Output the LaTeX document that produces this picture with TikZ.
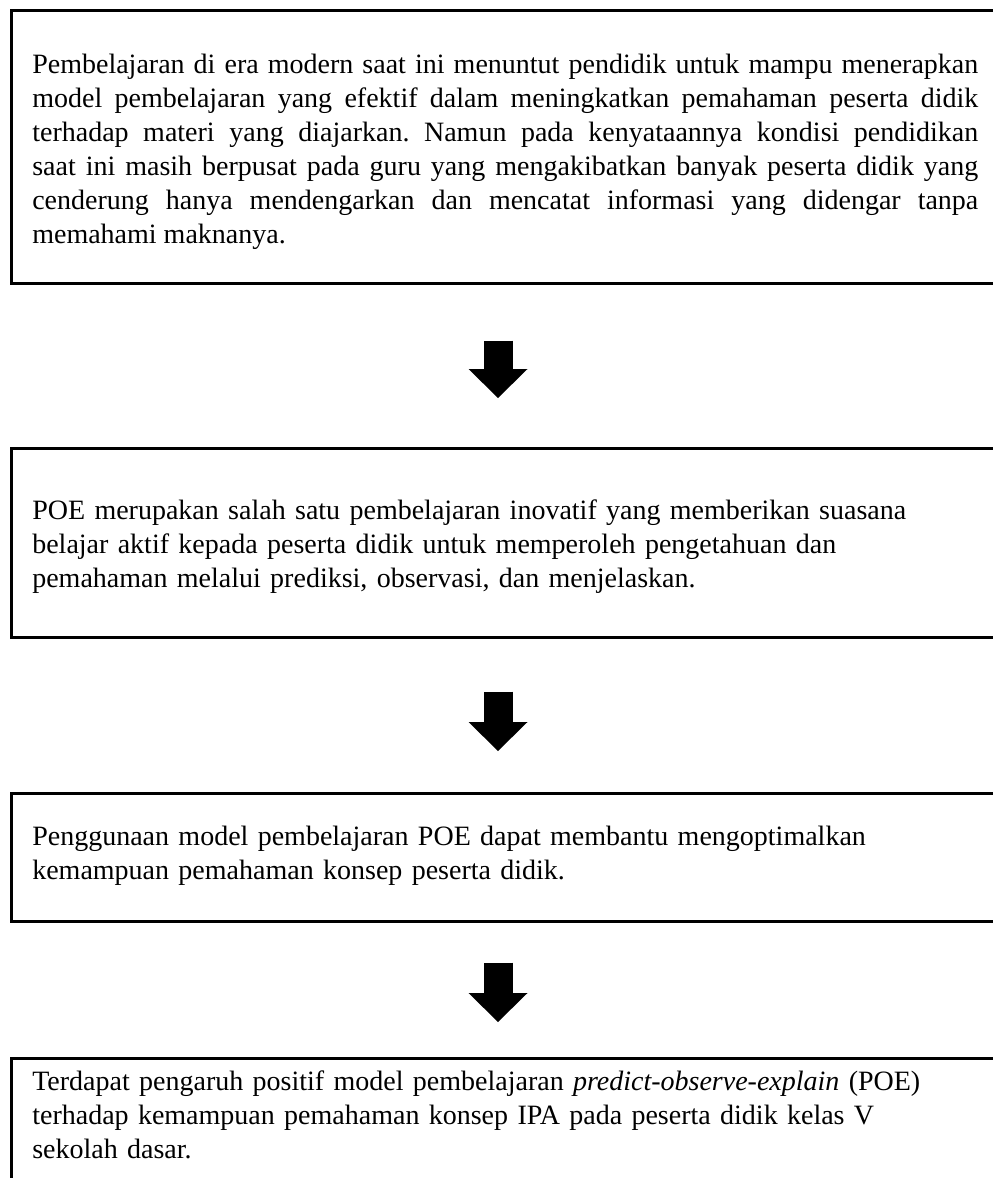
\documentclass[tikz,border=0pt]{standalone}
\usepackage{fontspec}
\setmainfont{Liberation Serif}
\usetikzlibrary{calc}
\usetikzlibrary{arrows.meta}
\frenchspacing

\begin{document}
\begin{tikzpicture}[x = 0.5pt, y = -0.5pt]

\tikzstyle{frame}=[rectangle, draw, line width = 1.3pt, anchor = north west, inner xsep = 10.5pt, inner ysep = 0pt, text width = 473pt, font = \fontsize{14}{17}\selectfont]
\tikzstyle{bigarrow}=[line width = 14.5pt, color = black, -{Triangle[width = 29.5pt, length = 14.5pt, line width = 0pt]}]

\useasboundingbox (0, 0) rectangle (992, 1178);

\node[frame, align = justify, text height = 31.5pt, text depth = 105pt] (problem) at (10, 9) {Pembelajaran di era modern saat ini menuntut pendidik untuk mampu menerapkan\linebreak model pembelajaran yang efektif dalam meningkatkan pemahaman peserta didik\linebreak terhadap materi yang diajarkan. Namun pada kenyataannya kondisi pendidikan\linebreak saat ini masih berpusat pada guru yang mengakibatkan banyak peserta didik yang\linebreak cenderung hanya mendengarkan dan mencatat informasi yang didengar tanpa\linebreak memahami maknanya.};

\node[frame, align = left, text height = 35.5pt, text depth = 59pt] (poe) at (10, 447) {POE merupakan salah satu pembelajaran inovatif yang memberikan suasana\\ belajar aktif kepada peserta didik untuk memperoleh pengetahuan dan\\ pemahaman melalui prediksi, observasi, dan menjelaskan.};

\node[frame, align = left, text height = 26pt, text depth = 38pt] (usage) at (10, 792) {Penggunaan model pembelajaran POE dapat membantu mengoptimalkan\\ kemampuan pemahaman konsep peserta didik.};

\node[frame, align = left, text height = 16pt, text depth = 100pt] (result) at (10, 1057) {Terdapat pengaruh positif model pembelajaran \textit{predict-observe-explain} (POE)\\ terhadap kemampuan pemahaman konsep IPA pada peserta didik kelas V\\ sekolah dasar.};

\coordinate (a1s) at ($(problem.south west) + (488, 56)$);
\coordinate (a1e) at ($(poe.north west) + (488, -49)$);
\coordinate (a2s) at ($(poe.south west) + (488, 53)$);
\coordinate (a2e) at ($(usage.north west) + (488, -41)$);
\coordinate (a3s) at ($(usage.south west) + (488, 40)$);
\coordinate (a3e) at ($(result.north west) + (488, -35)$);

%block arrows
\draw[bigarrow] (a1s) to (a1e);
\draw[bigarrow] (a2s) to (a2e);
\draw[bigarrow] (a3s) to (a3e);

\end{tikzpicture}
\end{document}
